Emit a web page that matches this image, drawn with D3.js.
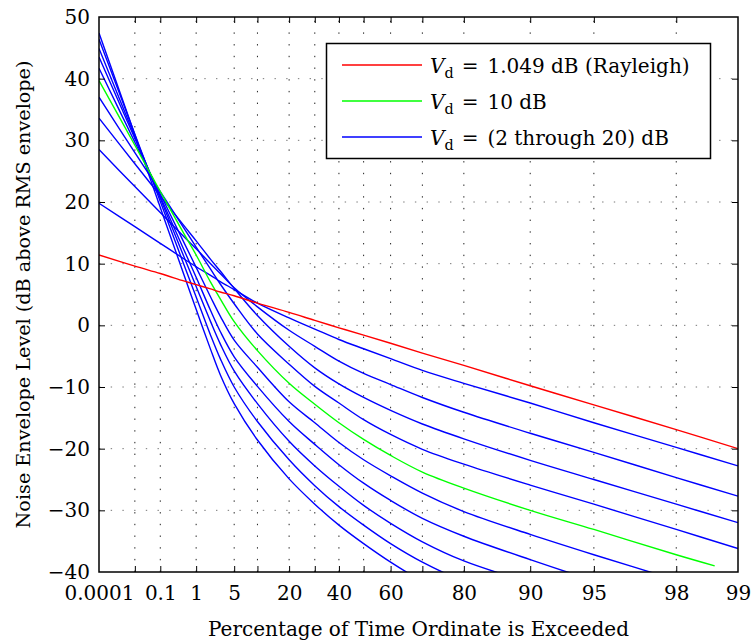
<!DOCTYPE html>
<html>
<head>
<meta charset="utf-8">
<script src="https://cdn.jsdelivr.net/npm/d3@7"></script>
<style>
  html, body { margin: 0; padding: 0; background: #fff; }
  svg text { font-family: "DejaVu Serif", "Liberation Serif", serif; fill: #000; }
</style>
</head>
<body>
<svg id="chart" width="752" height="643"></svg>
<script>
// Percentage of time the ordinate is exceeded (sample columns shared by all curves)
const percents = [0.0001, 0.01, 0.1, 0.5, 1, 2, 3, 5, 10, 20, 30, 40, 50, 60, 70, 80, 90, 95, 98, 99];
// Vd = 10 dB curve stops a little short of 99 %
const percentsVd10 = [0.0001, 0.01, 0.1, 0.5, 1, 2, 3, 5, 10, 20, 30, 40, 50, 60, 70, 80, 90, 95, 98, 98.7];

// Envelope level, dB above RMS envelope
const rayleigh = [11.4, 9.6, 8.4, 7.2, 6.6, 5.9, 5.4, 4.8, 3.6, 2.1, 0.8, -0.4, -1.6, -2.9, -4.5, -6.5, -9.8, -12.9, -16.9, -20.0];
const vd2  = [19.8, 16.0, 13.3, 10.8, 9.5, 8.1, 7.1, 5.8, 3.6, 1.2, -0.6, -2.3, -3.8, -5.4, -7.3, -9.4, -12.6, -15.8, -19.8, -22.8];
const vd4  = [28.5, 22.5, 18.3, 14.4, 12.4, 10.0, 8.4, 6.1, 3.0, -0.8, -3.4, -5.8, -7.8, -9.6, -11.7, -14.1, -17.5, -20.6, -24.7, -27.7];
const vd6  = [33.6, 26.2, 21.0, 16.2, 13.7, 10.7, 8.8, 6.0, 1.6, -3.4, -6.9, -9.5, -11.7, -13.8, -16.0, -18.4, -21.9, -25.0, -29.0, -32.0];
const vd8  = [37.0, 28.0, 21.7, 15.8, 12.7, 9.1, 6.7, 3.5, -1.4, -6.3, -9.9, -12.6, -15.3, -17.7, -20.1, -22.5, -25.9, -29.0, -33.1, -36.2];
const vd10 = [39.7, 29.2, 21.7, 14.9, 11.4, 7.0, 4.3, 0.6, -4.1, -9.4, -12.8, -15.8, -18.5, -21.1, -23.8, -26.4, -30.0, -33.1, -37.2, -39.0];
const vd12 = [41.7, 29.7, 21.3, 13.5, 9.4, 4.6, 1.5, -2.4, -6.8, -12.4, -15.8, -19.0, -21.8, -24.4, -27.2, -30.2, -33.9, -37.2, -41.3, -44.3];
const vd14 = [43.5, 30.3, 20.9, 12.3, 7.8, 2.4, -1.0, -5.1, -9.9, -15.6, -19.3, -22.6, -25.6, -28.4, -31.3, -34.2, -38.0, -41.4, -45.5, -48.5];
const vd16 = [44.9, 30.6, 20.6, 11.2, 6.3, 0.6, -3.0, -7.4, -12.7, -18.8, -22.8, -26.1, -29.2, -32.1, -35.1, -38.2, -41.8, -45.2, -49.3, -52.3];
const vd18 = [46.4, 31.0, 20.1, 9.9, 4.6, -1.6, -5.4, -10.0, -15.6, -21.8, -26.0, -29.4, -32.4, -35.4, -38.4, -41.5, -45.0, -48.5, -52.5, -55.5];
const vd20 = [47.4, 30.9, 19.1, 8.3, 2.6, -3.9, -8.0, -12.7, -18.6, -24.9, -29.0, -32.4, -35.4, -38.4, -41.5, -44.8, -48.5, -52.0, -56.0, -59.0];

const blueCurves = [vd2, vd4, vd6, vd8, vd12, vd14, vd16, vd18, vd20];

// Axis ticks
const xTickValues = [0.0001, 0.1, 1, 5, 20, 40, 60, 80, 90, 95, 98, 99];
const xTickLabels = ["0.0001", "0.1", "1", "5", "20", "40", "60", "80", "90", "95", "98", "99"];
const xGridValues = [0.01, 0.1, 1, 5, 10, 20, 30, 40, 50, 60, 70, 80, 90, 95, 98];
const yTickValues = [-40, -30, -20, -10, 0, 10, 20, 30, 40, 50];

const legendValues = ["1.049 dB (Rayleigh)", "10 dB", "(2 through 20) dB"];
const legendColors = ["#ff0000", "#00ff00", "#0000ff"];

// ---- layout ----
const plot = { left: 99, right: 738, top: 17, bottom: 572 };
const FONT = 20;

// Rayleigh probability paper: position is linear in 10·log10(-ln(P))
const toRay = p => 10 * Math.log10(-Math.log(p / 100));
const xr = d3.scaleLinear().domain([toRay(0.0001), toRay(99)]).range([plot.left, plot.right]);
const x = p => xr(toRay(p));
const y = d3.scaleLinear().domain([-40, 50]).range([plot.bottom, plot.top]);

const svg = d3.select("#chart");

svg.append("defs").append("clipPath").attr("id", "plotClip")
  .append("rect")
  .attr("x", plot.left).attr("y", plot.top)
  .attr("width", plot.right - plot.left).attr("height", plot.bottom - plot.top);

// ---- dotted grid ----
const grid = svg.append("g");
grid.selectAll("line.vg").data(xGridValues).join("line")
  .attr("class", "vg")
  .attr("x1", d => x(d)).attr("x2", d => x(d))
  .attr("y1", plot.bottom).attr("y2", plot.top)
  .attr("stroke", "#222").attr("stroke-width", 1)
  .attr("stroke-dasharray", "1.4 10.3");
grid.selectAll("line.hg").data(yTickValues.slice(1, -1)).join("line")
  .attr("class", "hg")
  .attr("x1", plot.left).attr("x2", plot.right)
  .attr("y1", d => y(d)).attr("y2", d => y(d))
  .attr("stroke", "#777").attr("stroke-width", 1)
  .attr("stroke-dasharray", "1.4 10.3");

// ---- curves ----
const line = d3.line()
  .x(d => x(d.p))
  .y(d => y(d.v))
  .curve(d3.curveCatmullRom.alpha(0.5));

const toPoints = (ps, vs) => vs.map((v, i) => ({ p: ps[i], v }));

const curves = svg.append("g").attr("clip-path", "url(#plotClip)")
  .attr("fill", "none").attr("stroke-width", 1.4).attr("stroke-linejoin", "round");

curves.selectAll("path.blue").data(blueCurves).join("path")
  .attr("class", "blue")
  .attr("d", vs => line(toPoints(percents, vs)))
  .attr("stroke", legendColors[2]);
curves.append("path")
  .attr("d", line(toPoints(percentsVd10, vd10)))
  .attr("stroke", legendColors[1]);
curves.append("path")
  .attr("d", line(toPoints(percents, rayleigh)))
  .attr("stroke", legendColors[0]);

// ---- axes (inward ticks on all four sides) ----
const tickLen = 6;
const styleAxis = g => {
  g.select(".domain").remove();
  g.selectAll(".tick line").attr("stroke", "#000").attr("stroke-width", 1);
};
svg.append("g").attr("transform", `translate(0,${plot.bottom})`)
  .call(d3.axisBottom(xr).tickValues(xGridValues.map(toRay)).tickSize(-tickLen).tickFormat(""))
  .call(styleAxis);
svg.append("g").attr("transform", `translate(0,${plot.top})`)
  .call(d3.axisTop(xr).tickValues(xGridValues.map(toRay)).tickSize(-tickLen).tickFormat(""))
  .call(styleAxis);
svg.append("g").attr("transform", `translate(${plot.left},0)`)
  .call(d3.axisLeft(y).tickValues(yTickValues.slice(1, -1)).tickSize(-tickLen).tickFormat(""))
  .call(styleAxis);
svg.append("g").attr("transform", `translate(${plot.right},0)`)
  .call(d3.axisRight(y).tickValues(yTickValues.slice(1, -1)).tickSize(-tickLen).tickFormat(""))
  .call(styleAxis);

// tick labels
const xLab = svg.append("g").attr("transform", `translate(0,${plot.bottom})`)
  .call(d3.axisBottom(xr).tickValues(xTickValues.map(toRay))
    .tickFormat((d, i) => xTickLabels[i]).tickSize(0).tickPadding(14));
xLab.select(".domain").remove();
xLab.attr("font-family", null).attr("font-size", FONT);

const yLab = svg.append("g").attr("transform", `translate(${plot.left},0)`)
  .call(d3.axisLeft(y).tickValues(yTickValues)
    .tickFormat(d => d < 0 ? "\u2212" + Math.abs(d) : String(d)).tickSize(0).tickPadding(9));
yLab.select(".domain").remove();
yLab.attr("font-family", null).attr("font-size", FONT);

// frame
svg.append("rect")
  .attr("x", plot.left).attr("y", plot.top)
  .attr("width", plot.right - plot.left).attr("height", plot.bottom - plot.top)
  .attr("fill", "none").attr("stroke", "#000").attr("stroke-width", 1.5);

// axis titles
svg.append("text")
  .attr("x", (plot.left + plot.right) / 2).attr("y", 636)
  .attr("text-anchor", "middle").attr("font-size", FONT)
  .text("Percentage of Time Ordinate is Exceeded");
svg.append("text")
  .attr("transform", `translate(30,${(plot.top + plot.bottom) / 2}) rotate(-90)`)
  .attr("text-anchor", "middle").attr("font-size", 19.2)
  .text("Noise Envelope Level (dB above RMS envelope)");

// ---- legend ----
const legend = svg.append("g");
legend.append("rect")
  .attr("x", 326.5).attr("y", 43.5).attr("width", 384).attr("height", 115)
  .attr("fill", "#fff").attr("stroke", "#000").attr("stroke-width", 1.5);
const rows = legend.selectAll("g.row").data(legendValues).join("g")
  .attr("class", "row")
  .attr("transform", (d, i) => `translate(0,${65 + i * 36})`);
rows.append("line")
  .attr("x1", 342).attr("x2", 422).attr("y1", 0).attr("y2", 0)
  .attr("stroke", (d, i) => legendColors[i]).attr("stroke-width", 1.4);
const lt = rows.append("text").attr("x", 430).attr("y", 8).attr("font-size", FONT);
lt.append("tspan").attr("font-style", "italic").text("V");
lt.append("tspan").attr("dy", 5).attr("font-size", FONT * 0.72).text("d");
lt.append("tspan").attr("dy", -5).attr("dx", 8).text("=");
lt.append("tspan").attr("dx", 9).text(d => d);
</script>
</body>
</html>
